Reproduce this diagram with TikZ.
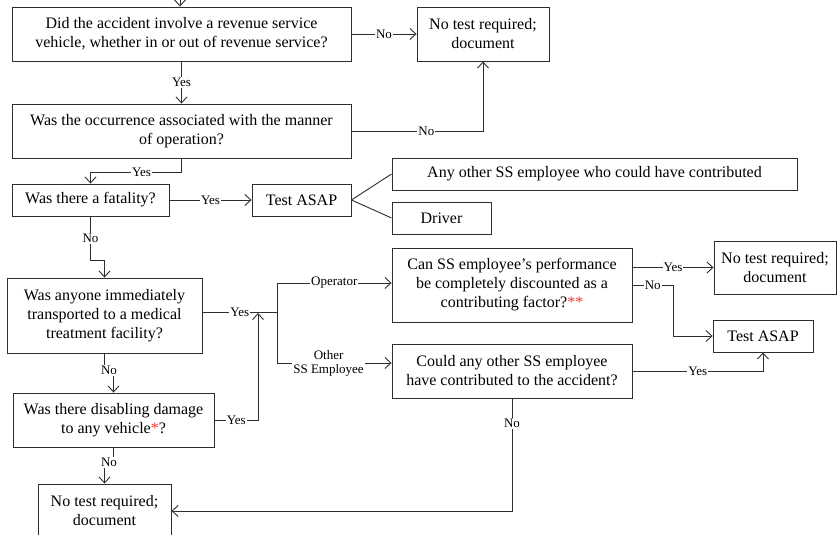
\documentclass[tikz,border=0pt]{standalone}
\usepackage{fontspec}
\setmainfont{Liberation Serif}
\usetikzlibrary{arrows.meta}
\definecolor{linec}{HTML}{2E2E2E}
\definecolor{astc}{HTML}{FF3030}
\tikzset{
  box/.style={draw=linec, line width=0.9bp, align=center, inner sep=0pt, text=black,
    font=\fontsize{16bp}{19bp}\selectfont},
  lbl/.style={fill=white, inner sep=1bp, text=black, align=center,
    font=\fontsize{13bp}{14bp}\selectfont},
  conn/.style={draw=linec, line width=0.9bp},
  arr/.style={conn, -{Straight Barb[length=6bp,width=11bp]}},
}
\begin{document}
\begin{tikzpicture}[x=1bp, y=-1bp]
\fill[white] (0,0) rectangle (837,535);
\useasboundingbox (0,0) rectangle (837,535);

% boxes
\node[box, minimum width=339bp, minimum height=54bp] (B1) at (181.5,34)
  {Did the accident involve a revenue service\\vehicle, whether in or out of revenue service?};
\node[box, minimum width=132bp, minimum height=54bp] (N1) at (483,34)
  {No test required;\\document};
\node[box, minimum width=339bp, minimum height=54bp] (B2) at (181.5,131)
  {Was the occurrence associated with the manner\\of operation?};
\node[box, minimum width=157bp, minimum height=32bp] (B3) at (90.5,200)
  {Was there a fatality?};
\node[box, minimum width=99bp, minimum height=32bp] (T1) at (301.5,200)
  {Test ASAP};
\node[box, minimum width=405bp, minimum height=32bp] (AO) at (594.5,174)
  {Any other SS employee who could have contributed};
\node[box, minimum width=99bp, minimum height=32bp] (DR) at (441.5,218)
  {Driver};
\node[box, minimum width=195bp, minimum height=75bp] (B4) at (104.5,315.5)
  {Was anyone immediately\\transported to a medical\\treatment facility?};
\node[box, minimum width=201bp, minimum height=54bp] (B5) at (113.5,420)
  {Was there disabling damage\\to any vehicle\textcolor{astc}{*}?};
\node[box, minimum width=133bp, minimum height=54bp] (N3) at (104.5,511)
  {No test required;\\document};
\node[box, minimum width=240bp, minimum height=74bp] (C1) at (512,285)
  {Can SS employee’s performance\\be completely discounted as a\\contributing factor?\textcolor{astc}{**}};
\node[box, minimum width=240bp, minimum height=54bp] (C2) at (512,371)
  {Could any other SS employee\\have contributed to the accident?};
\node[box, minimum width=122bp, minimum height=53bp] (N2) at (775,267.5)
  {No test required;\\document};
\node[box, minimum width=100bp, minimum height=32bp] (T2) at (763,336)
  {Test ASAP};

% helper coordinates
\coordinate (top) at (180,-2);
\coordinate (jn) at (277,312);
\coordinate (jt) at (277,283);
\coordinate (jb) at (277,363);
\coordinate (jy) at (258,313);
\coordinate (kx) at (673,285);

% connectors
\draw[arr] (top) -- (top |- B1.north);
\draw[arr] (B1.east) -- node[lbl]{No} (N1.west);
\draw[arr] (B1.south) -- node[lbl]{Yes} (B2.north);
\draw[arr] (B2.east) -- node[lbl, pos=0.57]{No} (B2.east -| N1.south) -- (N1.south);
\draw[arr] (B2.south) -- ++(0,14) -| node[lbl, pos=0.22]{Yes} (B3.north);
\draw[arr] (B3.east) -- node[lbl]{Yes} (T1.west);
\draw[conn] (T1.east) -- (AO.west);
\draw[conn] (T1.east) -- (DR.west);
\draw[arr] (B3.south) -- node[lbl]{No} ++(0,44) -| (B4.north);
\draw[conn] (B4.east |- jn) -- node[lbl]{Yes} (jn);
\draw[conn] (jt) -- (jb);
\draw[arr] (jt) -- node[lbl]{Operator} (C1.west |- jt);
\draw[arr] (jb) -- node[lbl, pos=0.45]{Other\\SS Employee} (C2.west |- jb);
\draw[arr] (B5.east) -| node[lbl, pos=0.25]{Yes} (jy);
\draw[arr] (B4.south) -- ++(0,17) -| node[lbl, pos=0.25]{No} (B5.north);
\draw[arr] (B5.south) -- ++(0,15) -| node[lbl, pos=0.25]{No} (N3.north);
\draw[arr] (C1.east |- N2.west) -- node[lbl]{Yes} (N2.west);
\draw[arr] (C1.east) -- node[lbl]{No} (kx) |- (T2.west);
\draw[arr] (C2.east) -| node[lbl, pos=0.25]{Yes} (T2.south);
\draw[arr] (C2.south) |- node[lbl, pos=0.11]{No} (N3.east);
\end{tikzpicture}
\end{document}
